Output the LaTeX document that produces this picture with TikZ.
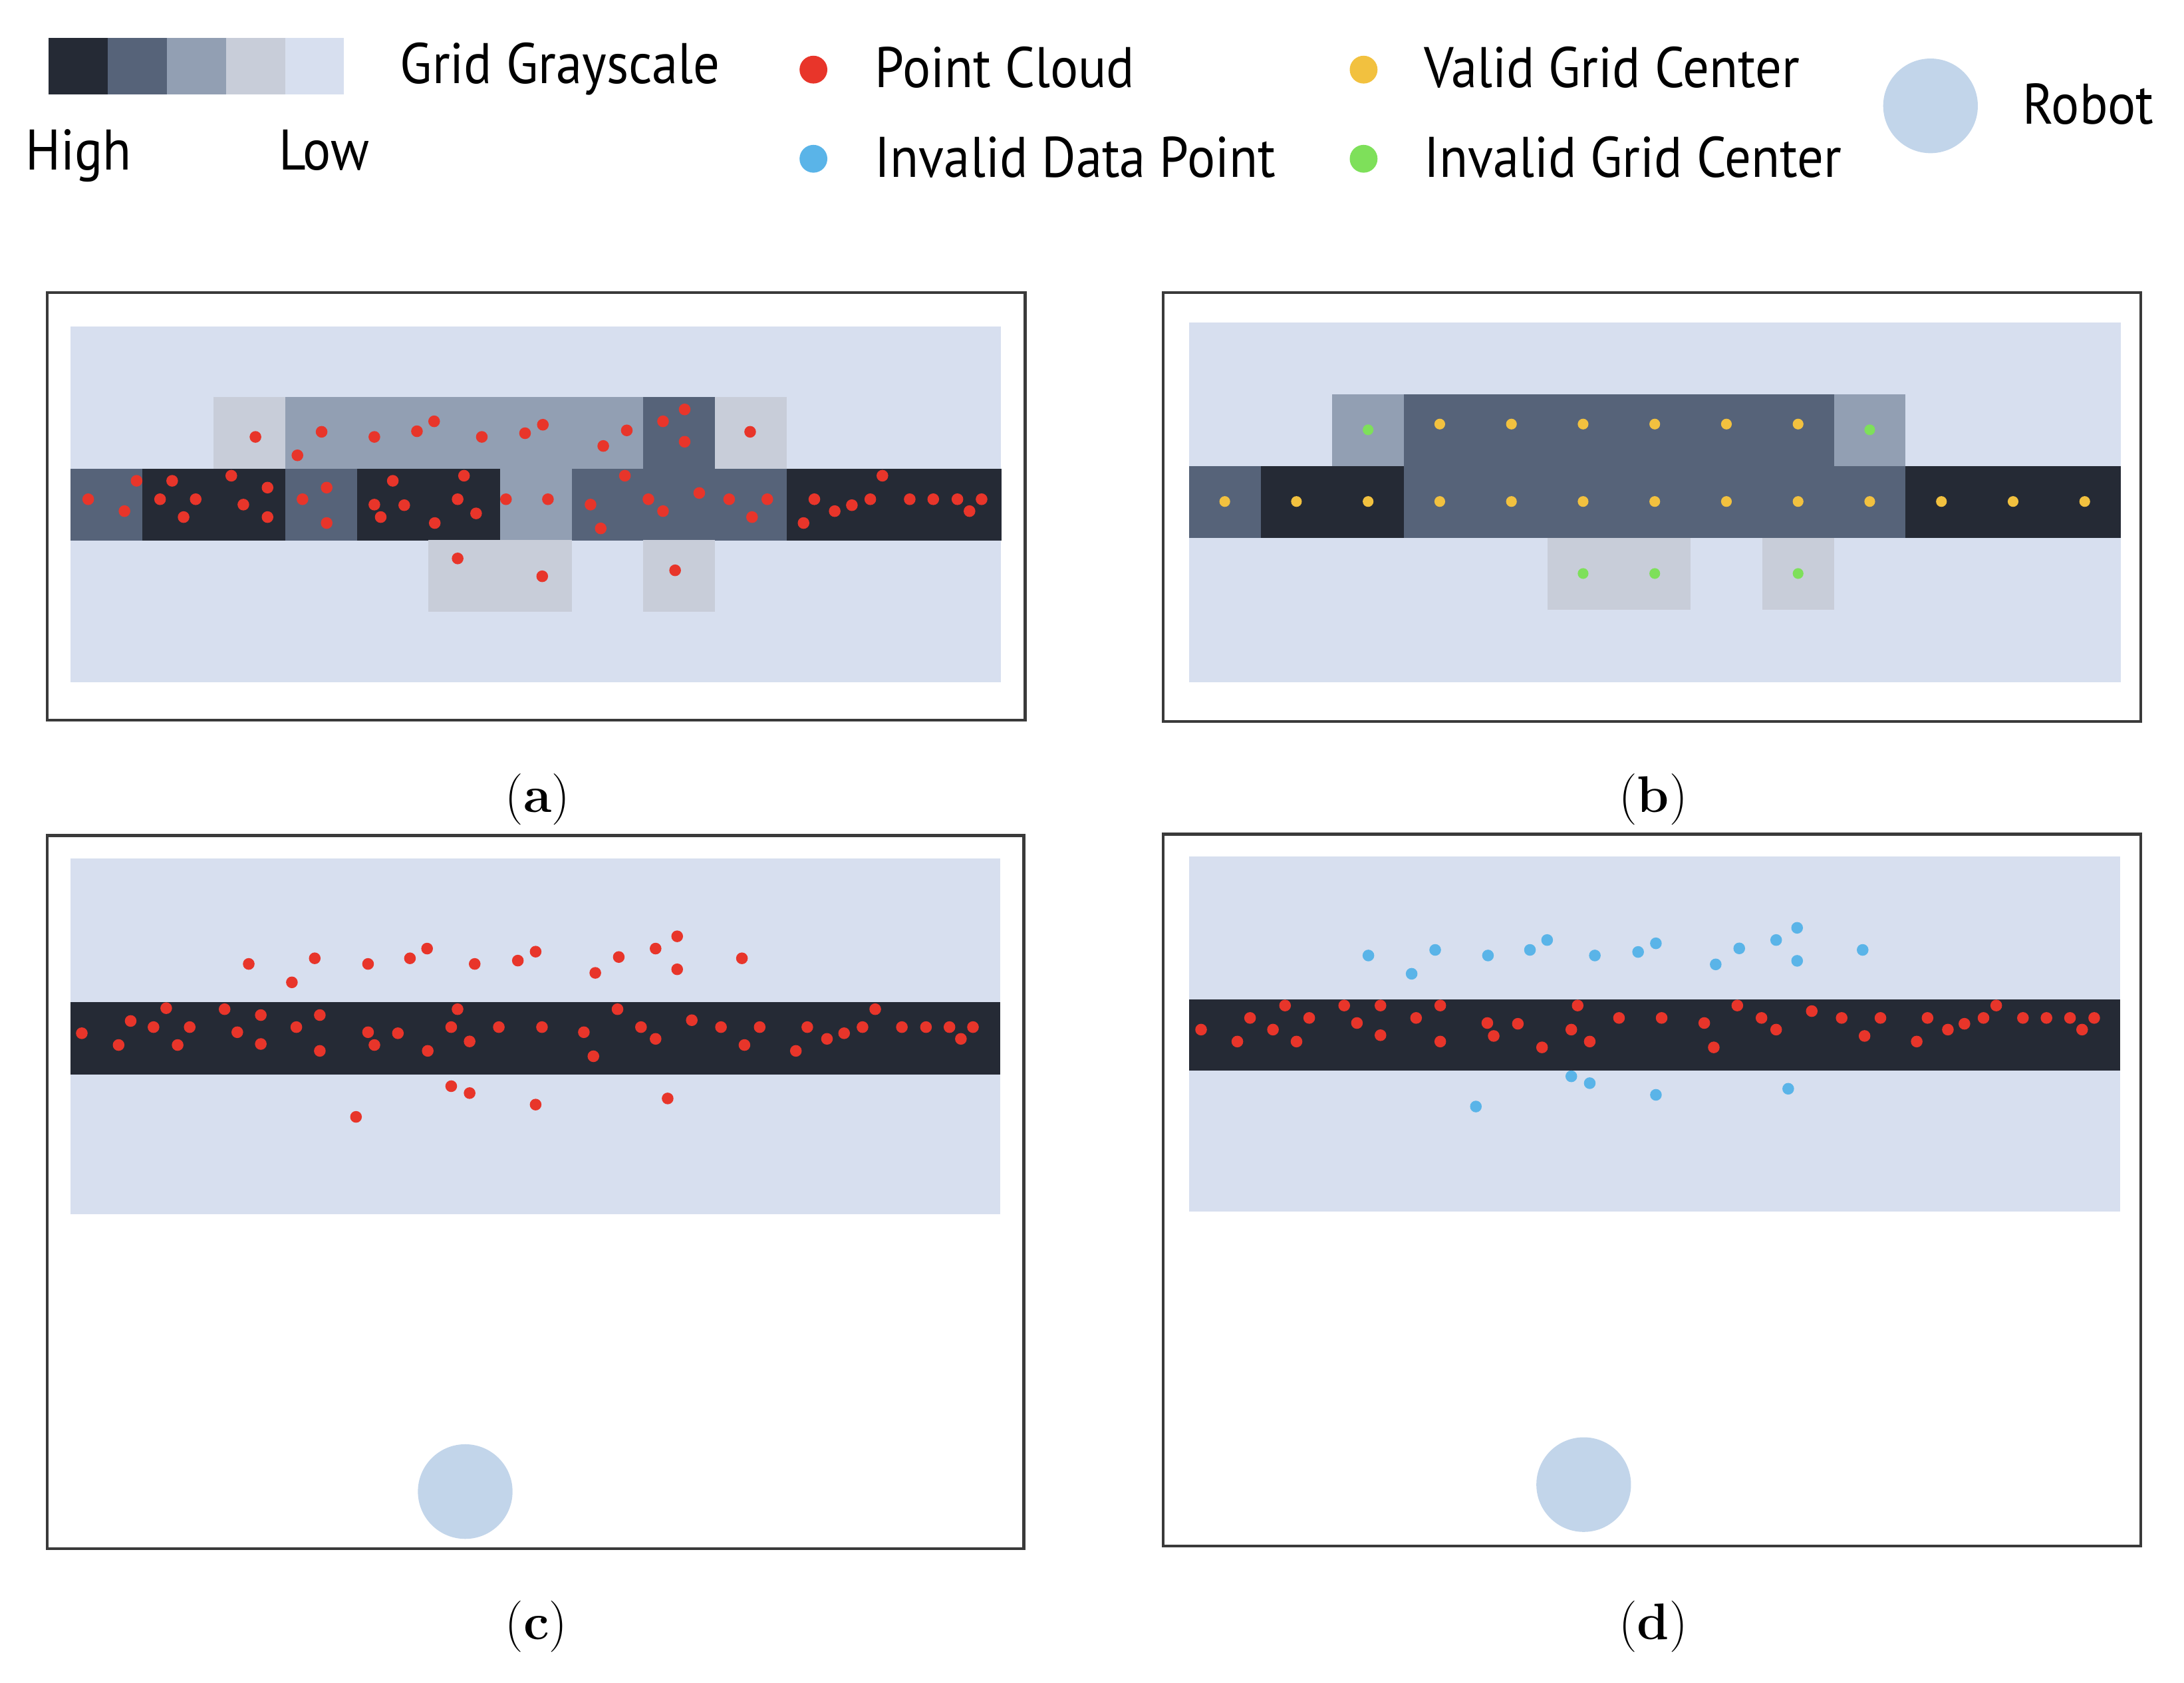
\documentclass[tikz,border=0pt]{standalone}
\usepackage{fontspec}
\newfontfamily\legfont[FakeStretch=0.915]{PT Sans}
\definecolor{gA}{HTML}{252A35}
\definecolor{gB}{HTML}{566379}
\definecolor{gC}{HTML}{929FB3}
\definecolor{gD}{HTML}{C8CDD9}
\definecolor{gE}{HTML}{D7DFEF}
\definecolor{ptred}{HTML}{E8352A}
\definecolor{ptblue}{HTML}{5AB4E8}
\definecolor{ptyel}{HTML}{F2C13F}
\definecolor{ptgrn}{HTML}{7EE05A}
\definecolor{robotc}{HTML}{C2D5EA}
\definecolor{framec}{HTML}{3A3A3A}
\tikzset{
  leg/.style={font=\legfont\fontsize{24.5}{28}\selectfont, inner sep=0pt, anchor=base west},
  lab/.style={font=\fontsize{22}{26}\selectfont, inner sep=0pt},
  panel/.style={draw=framec, line width=1.3pt, fill=white},
  rdot/.style={circle, fill=ptred, inner sep=0pt, minimum size=5pt},
  bdot/.style={circle, fill=ptblue, inner sep=0pt, minimum size=5pt},
  ydot/.style={circle, fill=ptyel, inner sep=0pt, minimum size=4.6pt},
  gdot/.style={circle, fill=ptgrn, inner sep=0pt, minimum size=4.6pt},
  legdot/.style={circle, inner sep=0pt, minimum size=11.9pt},
  robot/.style={circle, fill=robotc, inner sep=0pt, minimum size=40.5pt},
}
\begin{document}
\begin{tikzpicture}[x=0.020944cm, y=-0.020944cm]
\useasboundingbox (0,0) rectangle (1568,1208.45);
% ---------------- legend ----------------
\foreach \c [count=\i from 0] in {gA,gB,gC,gD,gE}
  \fill[\c] ({35+\i*42.4},27) rectangle ++(42.4,41);
\node[leg] (tgg) at (287,60) {Grid Grayscale};
\node[leg] (thigh) at (18,122) {High};
\node[leg] (tlow) at (200,122) {Low};
\node[legdot, fill=ptred] (lred) at (584,50) {};
\node[leg] (tpc) at (628,63) {Point Cloud};
\node[legdot, fill=ptblue] (lblue) at (584,114) {};
\node[leg] (tidp) at (628,127) {Invalid Data Point};
\node[legdot, fill=ptyel] (lyel) at (979,50) {};
\node[leg] (tvgc) at (1022,63) {Valid Grid Center};
\node[legdot, fill=ptgrn] (lgrn) at (979,114) {};
\node[leg] (tigc) at (1022,127) {Invalid Grid Center};
\node[robot] (lrob) at (1386,76) {};
\node[leg] (trob) at (1452,89) {Robot};
% ---------------- panel frames ----------------
\draw[panel] (34,210) rectangle (736,517);
\draw[panel] (835,210) rectangle (1537,518);
\draw[panel] (34,600) rectangle (735,1112);
\draw[panel] (835,599) rectangle (1537,1110);
\node[lab] (la) at (386,574) {(\textbf{a})};
\node[lab] (lb) at (1187,574) {(\textbf{b})};
\node[lab] (lc) at (385,1168) {(\textbf{c})};
\node[lab] (ld) at (1187,1168) {(\textbf{d})};
% ---------------- panel (a) ----------------
\fill[gE] (50.6,234.5) rectangle (718.8,490);
\begin{scope}[shift={(50.6,336.5)}]
  \foreach \c/\r/\col in {2/-1/gD,3/-1/gC,4/-1/gC,5/-1/gC,6/-1/gC,7/-1/gC,8/-1/gB,9/-1/gD,
     0/0/gB,1/0/gA,2/0/gA,3/0/gB,4/0/gA,5/0/gA,6/0/gC,7/0/gB,8/0/gB,9/0/gB,10/0/gA,11/0/gA,12/0/gA,
     5/1/gD,6/1/gD,8/1/gD}
    \fill[\col] ({\c*51.4},{\r*51.4}) rectangle ++(51.45,51.45);
\end{scope}
\begin{scope}[shift={(28.65,205.3)}, xscale=0.4565, yscale=0.2034]
  \foreach \px/\py [count=\i] in {339/533,443/515,405/598,526/533,593/513,620/478,695/533,763/520,791/490,886/565,923/510,980/478,1014/436,1014/550,1117/515,
    76/753,133/795,152/688,208/688,189/753,245/753,226/816,301/670,358/712,320/772,358/816,413/753,451/712,451/837,555/688,526/772,573/774,536/816,667/670,657/753,686/803,621/837,733/753,799/753,866/772,882/856,920/670,957/753,980/795,1037/731,1084/753,1144/753,1120/816,1218/753,1201/837,1250/795,1277/774,1306/753,1325/670,1368/753,1405/753,1443/753,1481/753,1462/795,
    657/962,790/1025,999/1004}
    \node[rdot] (pa\i) at (\px,\py) {};
\end{scope}
% ---------------- panel (b) ----------------
\fill[gE] (853.6,231.5) rectangle (1522.5,489.7);
\begin{scope}[shift={(853.6,334.8)}]
  \foreach \c/\r/\col in {2/-1/gC,3/-1/gB,4/-1/gB,5/-1/gB,6/-1/gB,7/-1/gB,8/-1/gB,9/-1/gC,
     0/0/gB,1/0/gA,2/0/gA,3/0/gB,4/0/gB,5/0/gB,6/0/gB,7/0/gB,8/0/gB,9/0/gB,10/0/gA,11/0/gA,12/0/gA,
     5/1/gD,6/1/gD,8/1/gD}
    \fill[\col] ({\c*51.45},{\r*51.6}) rectangle ++(51.5,51.65);
  \foreach \c in {3,...,8}
    \node[ydot] (yb\c) at ({(\c+0.5)*51.45},-30.3) {};
  \foreach \c in {2,9}
    \node[gdot] (gu\c) at ({(\c+0.5)*51.45},-26.2) {};
  \foreach \c in {0,...,12}
    \node[ydot] (ym\c) at ({(\c+0.5)*51.45},25.3) {};
  \foreach \c in {5,6,8}
    \node[gdot] (gl\c) at ({(\c+0.5)*51.45},77) {};
\end{scope}
% ---------------- panel (c) ----------------
\fill[gE] (50.6,616.5) rectangle (718.2,872);
\fill[gA] (50.6,719.7) rectangle (718.2,771.6);
\begin{scope}[shift={(28.65,592.05)}, xscale=0.4557, yscale=0.18364]
  \foreach \px/\py [count=\i] in {329/545,433/523,397/617,517/545,583/523,610/485,685/545,753/532,781/497,875/580,912/518,970/485,1004/437,1004/566,1106/523,
    66/816,124/862,143/768,199/718,179/792,236/792,217/862,291/722,348/745,311/812,348/858,404/792,441/745,441/885,517/812,527/862,564/816,611/885,658/722,648/792,677/848,723/792,791/792,857/812,872/906,910/722,947/792,970/838,1027/765,1073/792,1134/792,1110/862,1209/792,1191/885,1240/838,1267/816,1296/792,1316/722,1358/792,1396/792,1433/792,1470/792,1451/838,
    648/1023,677/1050,781/1095,989/1071,498/1143}
    \node[rdot] (pc\i) at (\px,\py) {};
\end{scope}
\node[robot] (robc) at (334,1071) {};
% ---------------- panel (d) ----------------
\fill[gE] (853.6,615) rectangle (1522.3,870);
\fill[gA] (853.6,717.4) rectangle (1522.3,768.8);
\begin{scope}[shift={(830.8,592.05)}, xscale=0.4567, yscale=0.18224]
  \foreach \px/\py [count=\i] in {332/516,437/494,400/588,520/516,586/494,613/455,688/516,756/502,784/468,878/551,915/488,973/455,1006/407,1006/537,1109/494,
    651/992,680/1019,784/1065,992/1041,501/1111}
    \node[bdot] (qb\i) at (\px,\py) {};
  \foreach \px/\py [count=\i] in {69/808,126/855,146/762,201/713,182/808,239/762,219/855,294/713,351/713,314/782,351/830,407/762,445/713,445/855,519/782,529/833,567/785,605/878,661/713,651/808,680/855,726/762,793/762,860/782,875/878,912/713,950/762,973/808,1029/735,1076/762,1137/762,1112/833,1211/762,1194/855,1243/808,1269/785,1299/762,1319/713,1361/762,1398/762,1435/762,1473/762,1454/808}
    \node[rdot] (qr\i) at (\px,\py) {};
\end{scope}
\node[robot] (robd) at (1137,1066) {};
\end{tikzpicture}
\end{document}
